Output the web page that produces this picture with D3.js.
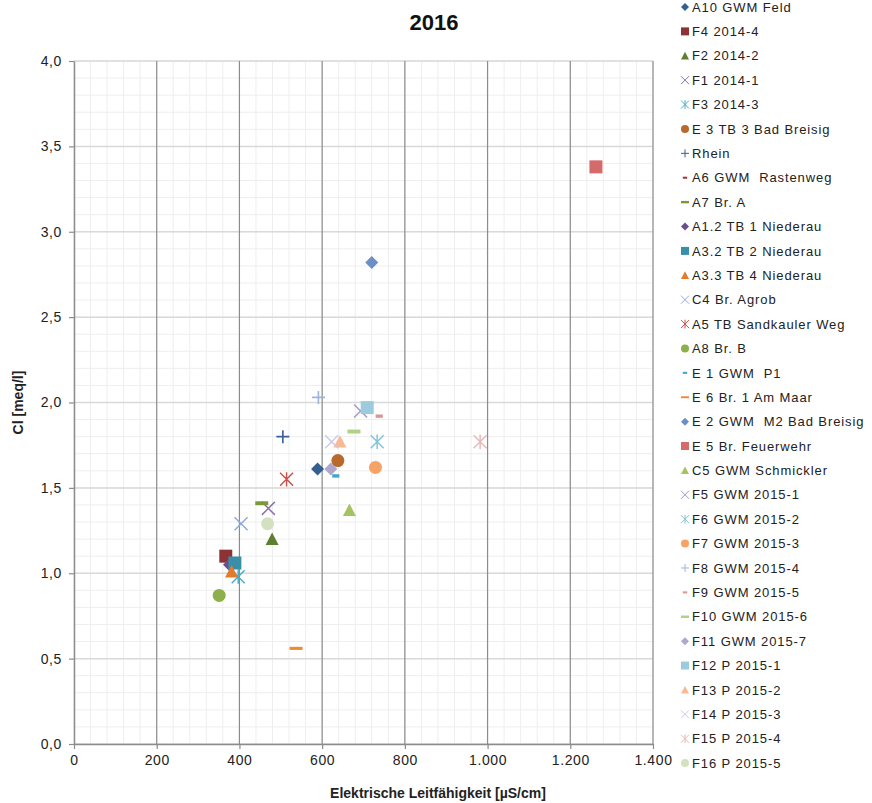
<!DOCTYPE html>
<html>
<head>
<meta charset="utf-8">
<script src="https://cdn.jsdelivr.net/npm/d3@7/dist/d3.min.js"></script>
<style>
  html, body { margin: 0; padding: 0; background: #fff; }
  svg { display: block; font-family: Arial, "Liberation Sans", sans-serif; }
  .legend text { white-space: pre; }
</style>
</head>
<body>
<svg id="chart" width="872" height="803"></svg>
<script>
// Measuring points: electrical conductivity [µS/cm] vs. chloride [meq/l], 2016
const seriesNames = [
  "A10 GWM Feld", "F4 2014-4", "F2 2014-2", "F1 2014-1", "F3 2014-3",
  "E 3 TB 3 Bad Breisig", "Rhein", "A6 GWM  Rastenweg", "A7 Br. A",
  "A1.2 TB 1 Niederau", "A3.2 TB 2 Niederau", "A3.3 TB 4 Niederau",
  "C4 Br. Agrob", "A5 TB Sandkauler Weg", "A8 Br. B", "E 1 GWM  P1",
  "E 6 Br. 1 Am Maar", "E 2 GWM  M2 Bad Breisig", "E 5 Br. Feuerwehr",
  "C5 GWM Schmickler", "F5 GWM 2015-1", "F6 GWM 2015-2", "F7 GWM 2015-3",
  "F8 GWM 2015-4", "F9 GWM 2015-5", "F10 GWM 2015-6", "F11 GWM 2015-7",
  "F12 P 2015-1", "F13 P 2015-2", "F14 P 2015-3", "F15 P 2015-4", "F16 P 2015-5"
];
const seriesShapes = [
  "diamond", "square", "triangle", "x", "asterisk",
  "circle", "plus", "dashSmall", "dash",
  "diamond", "square", "triangle",
  "x", "asterisk", "circle", "dashSmall",
  "dashLong", "diamond", "square",
  "triangle", "x", "asterisk", "circle",
  "plus", "dashSmall", "dash", "diamond",
  "square", "triangle", "x", "asterisk", "circle"
];
const seriesColors = [
  "#365f91", "#8e3335", "#5f7f30", "#8a72a8", "#4bacc6",
  "#b8692c", "#3a5f99", "#a33a3a", "#7a9a3a",
  "#6a4f8c", "#3a8fa8", "#e37b2a",
  "#8eaad6", "#c9504b", "#8eb04a", "#3fa8c8",
  "#ef8a33", "#6d8fc7", "#d46a6a",
  "#a4c463", "#a796c4", "#7fc4d8", "#f7a266",
  "#9db4dc", "#d99694", "#b2cf86", "#b3a6cc",
  "#9ccbe0", "#f9b995", "#c9cbe6", "#e6b9b8", "#d3e1c1"
];
// conductivity [µS/cm] per series (null = no value in 2016)
const conductivity = [
  589, 367, 479, 470, 397,
  638, 505, null, 454,
  376, 389, 381,
  404, 514, 351, 633,
  537, 720, 1262,
  666, 693, 733, 729,
  591, 738, 677, 621,
  709, 643, 623, 982, 468
];
// chloride [meq/l] per series
const chloride = [
  1.61, 1.10, 1.20, 1.38, 0.98,
  1.66, 1.80, null, 1.41,
  1.05, 1.06, 1.01,
  1.29, 1.55, 0.87, 1.57,
  0.56, 2.82, 3.38,
  1.37, 1.95, 1.77, 1.62,
  2.03, 1.92, 1.83, 1.61,
  1.97, 1.77, 1.77, 1.77, 1.29
];
const xTicks = [0, 200, 400, 600, 800, 1000, 1200, 1400];
const yTicks = [0, 0.5, 1.0, 1.5, 2.0, 2.5, 3.0, 3.5, 4.0];
const xMinorStep = 40;
const yMinorStep = 0.1;

const svg = d3.select("#chart");
const plot = { left: 74, right: 653, top: 61, bottom: 744 };

const x = d3.scaleLinear().domain([0, 1400]).range([plot.left, plot.right]);
const y = d3.scaleLinear().domain([0, 4]).range([plot.bottom, plot.top]);

const deFmt = d3.formatLocale({ decimal: ",", thousands: ".", grouping: [3], currency: ["", " €"] });
const fmtX = deFmt.format(",d");
const fmtY = deFmt.format(".1f");

// minor grid
const g = svg.append("g");
g.selectAll("line.minx").data(d3.range(0, 1400 + 1e-6, xMinorStep)).join("line")
  .attr("x1", d => x(d)).attr("x2", d => x(d))
  .attr("y1", plot.top).attr("y2", plot.bottom)
  .attr("stroke", "#eeeeee").attr("stroke-width", 1);
g.selectAll("line.miny").data(d3.range(0, 4 + 1e-6, yMinorStep)).join("line")
  .attr("x1", plot.left).attr("x2", plot.right)
  .attr("y1", d => y(d)).attr("y2", d => y(d))
  .attr("stroke", "#eeeeee").attr("stroke-width", 1);
// major grid
g.selectAll("line.majy").data(yTicks).join("line")
  .attr("x1", plot.left).attr("x2", plot.right)
  .attr("y1", d => y(d)).attr("y2", d => y(d))
  .attr("stroke", "#d9d9d9").attr("stroke-width", 1.5);
g.selectAll("line.majx").data(xTicks.slice(1)).join("line")
  .attr("x1", d => x(d)).attr("x2", d => x(d))
  .attr("y1", plot.top).attr("y2", plot.bottom)
  .attr("stroke", "#8c8c8c").attr("stroke-width", 1.2);

// axes
const xAxis = svg.append("g").attr("transform", `translate(0,${plot.bottom})`)
  .call(d3.axisBottom(x).tickValues(xTicks).tickFormat(fmtX).tickSizeInner(5).tickSizeOuter(0).tickPadding(6));
const yAxis = svg.append("g").attr("transform", `translate(${plot.left},0)`)
  .call(d3.axisLeft(y).tickValues(yTicks).tickFormat(fmtY).tickSizeInner(5).tickSizeOuter(0).tickPadding(7));
[xAxis, yAxis].forEach(a => {
  a.select(".domain").attr("stroke", "#8c8c8c").attr("stroke-width", 1.5);
  a.selectAll(".tick line").attr("stroke", "#8c8c8c").attr("stroke-width", 1.2);
  a.selectAll(".tick text").attr("fill", "#222").attr("font-size", 14)
    .attr("font-family", "Arial, 'Liberation Sans', sans-serif").style("letter-spacing", "0.6px");
});

// marker shapes
function drawMarker(sel, shape, color, s) {
  const h = s / 2;
  if (shape === "diamond") {
    sel.append("path").attr("d", `M0,${-h}L${h},0L0,${h}L${-h},0Z`).attr("fill", color);
  } else if (shape === "square") {
    sel.append("rect").attr("x", -h).attr("y", -h).attr("width", s).attr("height", s).attr("fill", color);
  } else if (shape === "triangle") {
    sel.append("path").attr("d", `M0,${-h}L${h},${h * 0.9}L${-h},${h * 0.9}Z`).attr("fill", color);
  } else if (shape === "circle") {
    sel.append("circle").attr("r", h).attr("fill", color);
  } else if (shape === "x") {
    sel.append("path").attr("d", `M${-h},${-h}L${h},${h}M${-h},${h}L${h},${-h}`)
      .attr("stroke", color).attr("stroke-width", Math.max(1, s / 9)).attr("fill", "none");
  } else if (shape === "asterisk") {
    sel.append("path").attr("d", `M${-h},${-h}L${h},${h}M${-h},${h}L${h},${-h}M0,${-h * 1.1}L0,${h * 1.1}`)
      .attr("stroke", color).attr("stroke-width", Math.max(1, s / 9)).attr("fill", "none");
  } else if (shape === "plus") {
    sel.append("path").attr("d", `M${-h},0L${h},0M0,${-h}L0,${h}`)
      .attr("stroke", color).attr("stroke-width", Math.max(1, s / 8)).attr("fill", "none");
  } else if (shape === "dash") {
    sel.append("rect").attr("x", -h).attr("y", -s * 0.15).attr("width", s).attr("height", s * 0.3).attr("fill", color);
  } else if (shape === "dashLong") {
    sel.append("rect").attr("x", -h).attr("y", -s * 0.12).attr("width", s).attr("height", s * 0.24).attr("fill", color);
  } else if (shape === "dashSmall") {
    sel.append("rect").attr("x", -h * 0.55).attr("y", -s * 0.13).attr("width", s * 0.55).attr("height", s * 0.26).attr("fill", color);
  }
}

// data points
const points = seriesNames.map((name, i) => ({
  name, shape: seriesShapes[i], color: seriesColors[i],
  cx: conductivity[i], cy: chloride[i]
})).filter(d => d.cx != null && d.cy != null);

const pts = svg.append("g");
points.forEach(d => {
  const m = pts.append("g").attr("transform", `translate(${x(d.cx)},${y(d.cy)})`);
  drawMarker(m, d.shape, d.color, 13);
});

// title and axis labels
svg.append("text").attr("x", 434).attr("y", 30).attr("text-anchor", "middle")
  .attr("font-size", 22).attr("font-weight", "bold").attr("fill", "#111").text("2016");
svg.append("text").attr("x", 438).attr("y", 798).attr("text-anchor", "middle")
  .attr("font-size", 14).attr("font-weight", "bold").attr("fill", "#222")
  .text("Elektrische Leitfähigkeit [µS/cm]");
svg.append("text").attr("transform", `translate(23,${(plot.top + plot.bottom) / 2}) rotate(-90)`)
  .attr("text-anchor", "middle").attr("font-size", 14).attr("font-weight", "bold").attr("fill", "#222")
  .text("Cl [meq/l]");

// legend
const legend = svg.append("g").attr("class", "legend");
const legY0 = 7, legStep = 24.39;
seriesNames.forEach((name, i) => {
  const row = legend.append("g").attr("transform", `translate(685,${legY0 + i * legStep})`);
  drawMarker(row, seriesShapes[i], seriesColors[i], 8);
  row.append("text").attr("x", 7).attr("y", 0).attr("dy", "0.36em")
    .attr("font-size", 13).attr("fill", "#222").style("letter-spacing", "0.9px")
    .text(name);
});
</script>
</body>
</html>
